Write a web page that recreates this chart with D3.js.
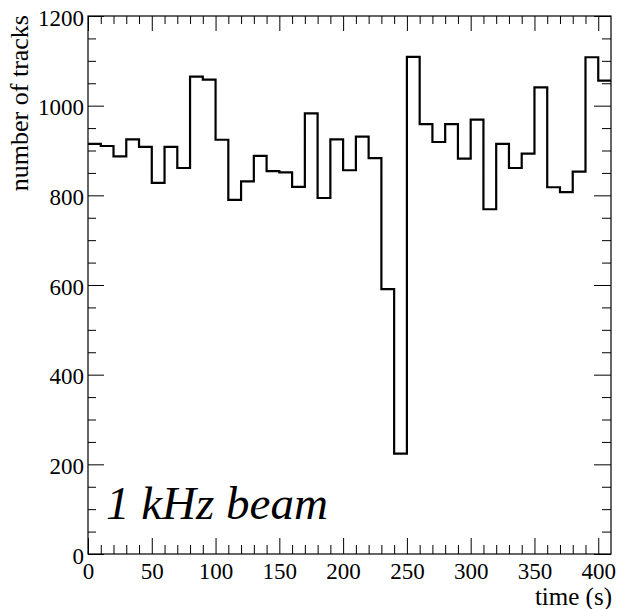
<!DOCTYPE html>
<html>
<head>
<meta charset="utf-8">
<script src="https://cdn.jsdelivr.net/npm/d3@7"></script>
<style>
  html, body { margin: 0; padding: 0; background: #fff; }
  svg { display: block; }
</style>
</head>
<body>
<svg id="chart" width="617" height="609"></svg>
<script>
// ---- data ----
const binStart = [0,10,20,30,40,50,60,70,80,90,100,110,120,130,140,150,160,170,180,190,200,210,220,230,240,250,260,270,280,290,300,310,320,330,340,350,360,370,380,390,400];
const binWidth = 10;
const tracks = [915, 910, 887, 925, 908, 828, 908, 861, 1065, 1058, 924, 790, 831, 888, 854, 851, 819, 983, 794, 925, 856, 931, 883, 591, 224, 1109, 959, 919, 959, 882, 969, 769, 915, 861, 893, 1041, 818, 807, 853, 1108, 1056];
const xMajorTicks = [0, 50, 100, 150, 200, 250, 300, 350, 400];
const xMinorTicks = [10,20,30,40,60,70,80,90,110,120,130,140,160,170,180,190,210,220,230,240,260,270,280,290,310,320,330,340,360,370,380,390];
const yMajorTicks = [0, 200, 400, 600, 800, 1000, 1200];
const yMinorTicks = [50,100,150,250,300,350,450,500,550,650,700,750,850,900,950,1050,1100,1150];
const xTitle = "time (s)";
const yTitle = "number of tracks";
const label = "1 kHz beam";

// ---- layout ----
const FONT = "Liberation Serif";
const L = 88, R = 611, T = 16, B = 554;
const svg = d3.select("#chart");
const x = d3.scaleLinear().domain([0, 410]).range([L, R]);
const y = d3.scaleLinear().domain([0, 1200]).range([B, T]);

function styleAxis(g) {
  g.attr("font-family", FONT);
  g.select(".domain").remove();
  g.selectAll(".tick line").attr("stroke", "#000").attr("stroke-width", 1);
}

// bottom major with labels
svg.append("g").attr("transform", `translate(0,${B})`)
  .call(d3.axisBottom(x).tickValues(xMajorTicks).tickSize(-16).tickFormat(d3.format("d")))
  .call(styleAxis)
  .call(g => g.selectAll(".tick text").attr("font-size", 23).attr("dy", 0).attr("y", 25)
    .attr("font-family", FONT).attr("fill", "#000"));
svg.append("g").attr("transform", `translate(0,${B})`)
  .call(d3.axisBottom(x).tickValues(xMinorTicks).tickSize(-9).tickFormat(""))
  .call(styleAxis);
// top
svg.append("g").attr("transform", `translate(0,${T})`)
  .call(d3.axisTop(x).tickValues(xMajorTicks).tickSize(-15).tickFormat(""))
  .call(styleAxis);
svg.append("g").attr("transform", `translate(0,${T})`)
  .call(d3.axisTop(x).tickValues(xMinorTicks).tickSize(-8).tickFormat(""))
  .call(styleAxis);
// left
svg.append("g").attr("transform", `translate(${L},0)`)
  .call(d3.axisLeft(y).tickValues(yMajorTicks).tickSize(-16).tickFormat(d3.format("d")))
  .call(styleAxis)
  .call(g => g.selectAll(".tick text").attr("font-size", 23).attr("x", -4).attr("dy", 0).attr("y", 9)
    .attr("font-family", FONT).attr("fill", "#000"));
svg.append("g").attr("transform", `translate(${L},0)`)
  .call(d3.axisLeft(y).tickValues(yMinorTicks).tickSize(-8).tickFormat(""))
  .call(styleAxis);
// right
svg.append("g").attr("transform", `translate(${R},0)`)
  .call(d3.axisRight(y).tickValues(yMajorTicks).tickSize(-17).tickFormat(""))
  .call(styleAxis);
svg.append("g").attr("transform", `translate(${R},0)`)
  .call(d3.axisRight(y).tickValues(yMinorTicks).tickSize(-9).tickFormat(""))
  .call(styleAxis);

// frame
svg.append("rect").attr("x", L).attr("y", T).attr("width", R - L).attr("height", B - T)
  .attr("fill", "none").attr("stroke", "#000").attr("stroke-width", 1.2);

// histogram outline
const pts = [];
binStart.forEach((s, i) => {
  pts.push([x(s), y(tracks[i])]);
  pts.push([x(s + binWidth), y(tracks[i])]);
});
svg.append("path")
  .attr("d", d3.line()(pts))
  .attr("fill", "none").attr("stroke", "#000").attr("stroke-width", 2.2)
  .attr("stroke-linejoin", "miter");

// titles
svg.append("text").attr("x", 612).attr("y", 605).attr("text-anchor", "end")
  .attr("font-family", FONT).attr("font-size", 25).text(xTitle);
svg.append("text").attr("transform", "translate(28,15) rotate(-90)").attr("text-anchor", "end")
  .attr("font-family", FONT).attr("font-size", 26).text(yTitle);

// label
svg.append("text").attr("x", 106).attr("y", 519).attr("font-size", 47)
  .attr("font-family", FONT).attr("font-style", "italic").text(label);
</script>
</body>
</html>
